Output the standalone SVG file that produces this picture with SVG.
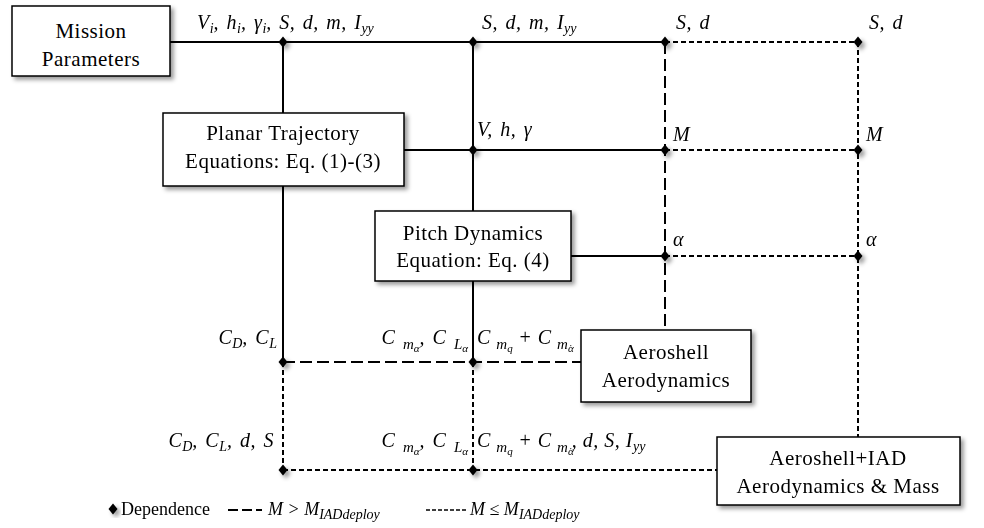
<svg xmlns="http://www.w3.org/2000/svg" width="984" height="528" viewBox="0 0 984 528">
<defs>
<filter id="sh" x="-20%" y="-20%" width="150%" height="150%">
<feDropShadow dx="3" dy="3" stdDeviation="2" flood-color="#000" flood-opacity="0.4"/>
</filter>
<symbol id="dia" viewBox="-5 -6 10 12" overflow="visible">
<path d="M0,-5.5 L4.5,0 L0,5.5 L-4.5,0 Z" fill="#000"/>
</symbol>
</defs>
<style>
.box{fill:#fff;stroke:#000;stroke-width:1.5;filter:url(#sh)}
.bt{font-family:"Liberation Serif","Times New Roman",serif;font-size:21px;letter-spacing:0.5px;text-anchor:middle;fill:#000}
.lbl{font-family:"Liberation Serif","Times New Roman",serif;font-size:20px;letter-spacing:0.5px;word-spacing:2px;font-style:italic;fill:#000}
.cm{word-spacing:0}
.sub{font-size:14px;letter-spacing:0}
.sm{font-size:15px;letter-spacing:0}
.sub2{font-size:11px;letter-spacing:0}
.solid{stroke:#000;stroke-width:2;fill:none}
.long{stroke:#000;stroke-width:2;fill:none;stroke-dasharray:12 5}
.short{stroke:#000;stroke-width:2;fill:none;stroke-dasharray:5 3}
.dot{filter:url(#sh)}
.leg{font-family:"Liberation Serif","Times New Roman",serif;font-size:18px;fill:#000}
.legi{font-family:"Liberation Serif","Times New Roman",serif;font-size:18px;font-style:italic;fill:#000}
</style>
<rect width="984" height="528" fill="#fff"/>

<g id="connectors">
<line class="solid" x1="170" y1="42" x2="665" y2="42"/>
<line class="short" x1="665" y1="42" x2="858" y2="42"/>
<line class="solid" x1="404" y1="150" x2="665" y2="150"/>
<line class="short" x1="665" y1="150" x2="858" y2="150"/>
<line class="solid" x1="571" y1="256" x2="665" y2="256"/>
<line class="short" x1="665" y1="256" x2="858" y2="256"/>
<line class="long" x1="283" y1="362" x2="581" y2="362"/>
<line class="short" x1="283" y1="470" x2="717" y2="470"/>
<line class="solid" x1="283" y1="42" x2="283" y2="113"/>
<line class="solid" x1="283" y1="186" x2="283" y2="362"/>
<line class="short" x1="283" y1="362" x2="283" y2="470"/>
<line class="solid" x1="473" y1="42" x2="473" y2="211"/>
<line class="solid" x1="473" y1="281" x2="473" y2="362"/>
<line class="short" x1="473" y1="362" x2="473" y2="470"/>
<line class="long" x1="665" y1="42" x2="665" y2="330"/>
<line class="short" x1="858" y1="42" x2="858" y2="437"/>
<g class="dot">
<use href="#dia" x="278" y="36" width="10" height="12"/>
<use href="#dia" x="468" y="36" width="10" height="12"/>
<use href="#dia" x="660" y="36" width="10" height="12"/>
<use href="#dia" x="853" y="36" width="10" height="12"/>
<use href="#dia" x="468" y="144" width="10" height="12"/>
<use href="#dia" x="660" y="144" width="10" height="12"/>
<use href="#dia" x="853" y="144" width="10" height="12"/>
<use href="#dia" x="660" y="250" width="10" height="12"/>
<use href="#dia" x="853" y="250" width="10" height="12"/>
<use href="#dia" x="278" y="356" width="10" height="12"/>
<use href="#dia" x="468" y="356" width="10" height="12"/>
<use href="#dia" x="278" y="464" width="10" height="12"/>
<use href="#dia" x="468" y="464" width="10" height="12"/>
</g>
</g>

<g id="mission">
<rect class="box" x="12" y="6" width="158" height="70"/>
<text class="bt" x="91" y="38">Mission</text>
<text class="bt" x="91" y="66">Parameters</text>
</g>
<g id="planar">
<rect class="box" x="163" y="113" width="241" height="73"/>
<text class="bt" x="283" y="140">Planar Trajectory</text>
<text class="bt" x="283" y="168">Equations: Eq. (1)-(3)</text>
</g>
<g id="pitch">
<rect class="box" x="375" y="211" width="196" height="70"/>
<text class="bt" x="473" y="240">Pitch Dynamics</text>
<text class="bt" x="473" y="267">Equation: Eq. (4)</text>
</g>
<g id="aeroshell">
<rect class="box" x="581" y="330" width="170" height="72"/>
<text class="bt" x="666" y="359">Aeroshell</text>
<text class="bt" x="666" y="387">Aerodynamics</text>
</g>
<g id="aeroshell-iad">
<rect class="box" x="717" y="437" width="243" height="68"/>
<text class="bt" x="838" y="465">Aeroshell+IAD</text>
<text class="bt" x="838" y="493">Aerodynamics &amp; Mass</text>
</g>

<g id="labels">
<text class="lbl" x="197" y="29">V<tspan class="sub" dy="4">i</tspan><tspan dy="-4">, h</tspan><tspan class="sub" dy="4">i</tspan><tspan dy="-4">, γ</tspan><tspan class="sub" dy="4">i</tspan><tspan dy="-4">, S, d, m, I</tspan><tspan class="sub" dy="4">yy</tspan></text>
<text class="lbl" x="482" y="29">S, d, m, I<tspan class="sub" dy="4">yy</tspan></text>
<text class="lbl" x="676" y="29">S, d</text>
<text class="lbl" x="869" y="29">S, d</text>
<text class="lbl" x="477" y="136">V, h, γ</text>
<text class="lbl" x="673" y="141">M</text>
<text class="lbl" x="866" y="141">M</text>
<text class="lbl" x="673" y="246">α</text>
<text class="lbl" x="866" y="246">α</text>

<text class="lbl" x="277" y="344" text-anchor="end">C<tspan class="sub" dy="4">D</tspan><tspan dy="-4">, C</tspan><tspan class="sub" dy="4">L</tspan></text>
<text class="lbl" x="468" y="344" text-anchor="end">C <tspan class="sm" dy="5">m</tspan><tspan class="sub2" dy="3">α</tspan><tspan dy="-8">, C </tspan><tspan class="sm" dy="5">L</tspan><tspan class="sub2" dy="3">α</tspan></text>
<text class="lbl cm" x="477" y="344">C <tspan class="sm" dy="5">m</tspan><tspan class="sub2" dy="3">q</tspan><tspan dy="-8"> + C </tspan><tspan class="sm" dy="5">m</tspan><tspan class="sub2" dy="3">α</tspan><tspan class="sub2" dx="-5.5">˙</tspan></text>

<text class="lbl" x="274" y="447" text-anchor="end">C<tspan class="sub" dy="4">D</tspan><tspan dy="-4">, C</tspan><tspan class="sub" dy="4">L</tspan><tspan dy="-4">, d, S</tspan></text>
<text class="lbl" x="468" y="447" text-anchor="end">C <tspan class="sm" dy="5">m</tspan><tspan class="sub2" dy="3">α</tspan><tspan dy="-8">, C </tspan><tspan class="sm" dy="5">L</tspan><tspan class="sub2" dy="3">α</tspan></text>
<text class="lbl cm" x="477" y="447">C <tspan class="sm" dy="5">m</tspan><tspan class="sub2" dy="3">q</tspan><tspan dy="-8"> + C </tspan><tspan class="sm" dy="5">m</tspan><tspan class="sub2" dy="3">α</tspan><tspan class="sub2" dx="-5.5">˙</tspan><tspan dy="-8">, d, S, I</tspan><tspan class="sub" dy="4">yy</tspan></text>
</g>

<g id="legend">
<use href="#dia" x="108" y="503" width="10" height="12" class="dot"/>
<text class="leg" x="121" y="515">Dependence</text>
<line x1="228" y1="510" x2="262" y2="510" stroke="#000" stroke-width="2" stroke-dasharray="10 4"/>
<text class="legi" x="268" y="515">M &gt; M<tspan class="sub" dy="4">IADdeploy</tspan></text>
<line x1="426" y1="510" x2="466" y2="510" stroke="#000" stroke-width="1.5" stroke-dasharray="4 2"/>
<text class="legi" x="470" y="515">M ≤ M<tspan class="sub" dy="4">IADdeploy</tspan></text>
</g>
</svg>
